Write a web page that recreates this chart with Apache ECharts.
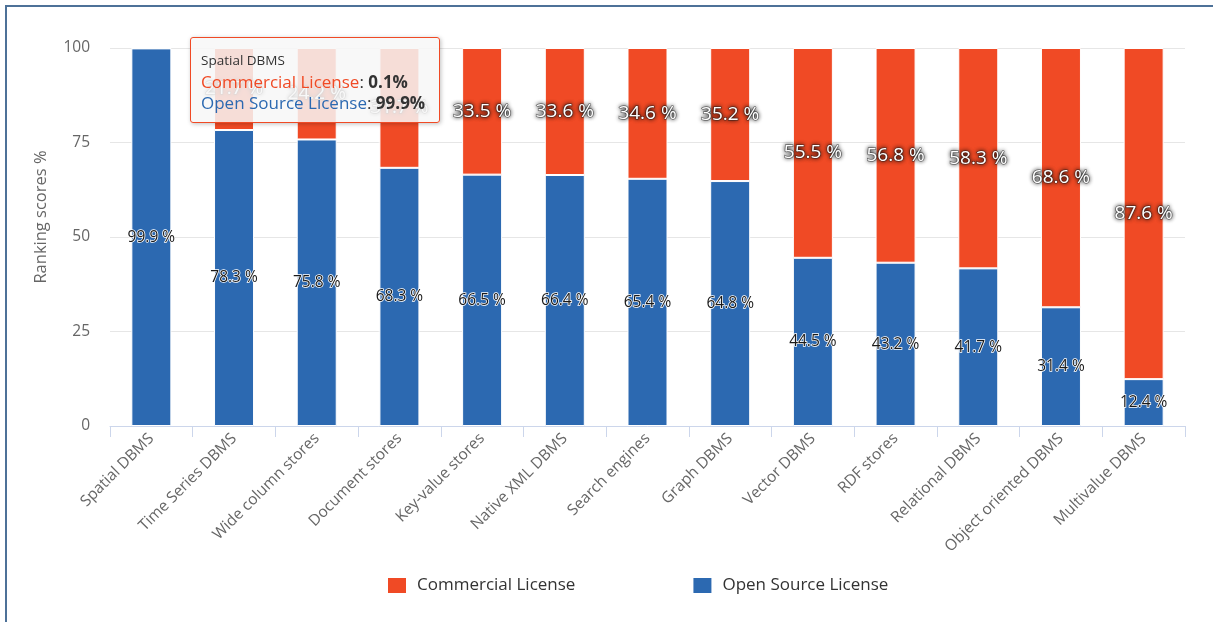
<!DOCTYPE html>
<html>
<head>
<meta charset="utf-8">
<script src="https://cdn.jsdelivr.net/npm/echarts@6/dist/echarts.min.js"></script>
<style>
  html, body { margin: 0; padding: 0; background: #fff; }
  #chart { position: absolute; left: 0; top: 0; width: 1213px; height: 622px; }
  #frame { position: absolute; left: 5px; top: 5px; width: 1220px; height: 640px;
           border-left: 2px solid #4d7198; border-top: 2px solid #4d7198; pointer-events: none; }
</style>
</head>
<body>
<div id="chart"></div>
<div id="frame"></div>
<script>
const categories = ["Spatial DBMS", "Time Series DBMS", "Wide column stores", "Document stores",
  "Key-value stores", "Native XML DBMS", "Search engines", "Graph DBMS", "Vector DBMS",
  "RDF stores", "Relational DBMS", "Object oriented DBMS", "Multivalue DBMS"];
const commercial = [0.1, 21.7, 24.2, 31.7, 33.5, 33.6, 34.6, 35.2, 55.5, 56.8, 58.3, 68.6, 87.6];
const openSource = [99.9, 78.3, 75.8, 68.3, 66.5, 66.4, 65.4, 64.8, 44.5, 43.2, 41.7, 31.4, 12.4];
const yTicks = [0, 25, 50, 75, 100];

const RED = '#f04a25';
const BLUE = '#2c69b1';
const FONT = '"Open Sans", "DejaVu Sans", sans-serif';

const chart = echarts.init(document.getElementById('chart'), null, { renderer: 'canvas' });

const option = {
  animation: false,
  textStyle: { fontFamily: FONT },
  grid: { left: 110, right: 28, top: 48, bottom: 196, containLabel: false },
  legend: {
    data: ['Commercial License', 'Open Source License'],
    left: 381, top: 571,
    icon: 'rect', itemWidth: 20, itemHeight: 17, itemGap: 116,
    textStyle: { fontSize: 17, color: '#333', fontFamily: FONT, padding: [0, 0, 0, 5] }
  },
  tooltip: {
    trigger: 'item',
    alwaysShowContent: true,
    transitionDuration: 0,
    position: [190, 37],
    backgroundColor: 'rgba(247,247,247,0.85)',
    borderColor: RED,
    borderWidth: 1.5,
    padding: [11, 10, 9, 10],
    extraCssText: 'border-radius:3px; box-shadow: 1px 1px 4px rgba(0,0,0,0.25); width:228px;',
    formatter: function (p) {
      const i = p.dataIndex;
      return '<div style="font-family:' + FONT.replace(/"/g, "'") + ';color:#333;">' +
        '<div style="font-size:13.5px;line-height:22px;">' + categories[i] + '</div>' +
        '<div style="font-size:17px;line-height:21px;"><span style="color:' + RED + '">Commercial License</span>: <b>' + commercial[i] + '%</b></div>' +
        '<div style="font-size:17px;line-height:21px;"><span style="color:' + BLUE + '">Open Source License</span>: <b>' + openSource[i] + '%</b></div>' +
        '</div>';
    }
  },
  xAxis: {
    type: 'category',
    data: categories,
    axisLine: { lineStyle: { color: '#ccd6eb', width: 1 } },
    axisTick: { show: true, length: 11, lineStyle: { color: '#ccd6eb' } },
    axisLabel: { rotate: 45, fontSize: 15.5, color: '#666', margin: 10, fontFamily: FONT }
  },
  yAxis: {
    type: 'value',
    min: yTicks[0], max: yTicks[yTicks.length - 1], interval: 25,
    name: 'Ranking scores %',
    nameLocation: 'middle',
    nameGap: 60,
    nameRotate: 90,
    nameTextStyle: { fontSize: 16.5, color: '#666', fontFamily: FONT, padding: [0, 0, 0, 40] },
    axisLine: { show: false },
    axisTick: { show: false },
    axisLabel: { fontSize: 15.5, color: '#666', margin: 20, fontFamily: FONT },
    splitLine: { lineStyle: { color: '#e6e6e6', width: 1 } }
  },
  series: [
    {
      name: 'Open Source License',
      type: 'bar',
      stack: 'total',
      data: openSource,
      barWidth: 40,
      itemStyle: { color: BLUE, borderColor: '#fff', borderWidth: 1 },
      label: {
        show: true, position: 'inside',
        formatter: function (p) { return p.value + ' %'; },
        fontSize: 15.5, color: '#1a1a1a', fontFamily: FONT,
        textBorderColor: '#fff', textBorderWidth: 1.5
      }
    },
    {
      name: 'Commercial License',
      type: 'bar',
      stack: 'total',
      data: commercial,
      barWidth: 40,
      itemStyle: { color: RED, borderColor: '#fff', borderWidth: 1 },
      label: {
        show: true, position: 'inside',
        formatter: function (p) { return p.value < 5 ? '' : p.value + ' %'; },
        fontSize: 19, color: '#fff', fontFamily: FONT,
        textBorderColor: 'rgba(40,40,40,0.55)', textBorderWidth: 1.5,
        textShadowColor: 'rgba(0,0,0,0.8)', textShadowBlur: 4
      }
    }
  ]
};

chart.setOption(option);
chart.dispatchAction({ type: 'showTip', seriesIndex: 1, dataIndex: 0 });
</script>
</body>
</html>
